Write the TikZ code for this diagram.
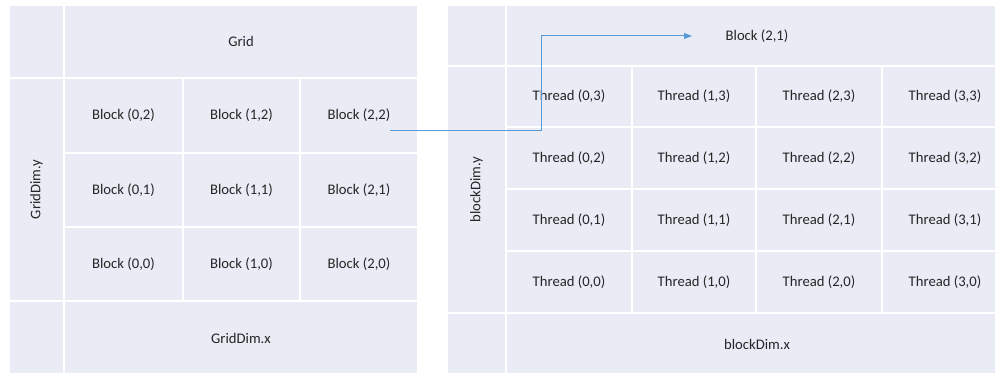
\documentclass[tikz,border=0pt]{standalone}
\usepackage{fontspec}
\setmainfont{Carlito}
\usetikzlibrary{arrows.meta}
\definecolor{cellfill}{HTML}{E9EBF5}
\definecolor{linkblue}{HTML}{5B9BD5}
\definecolor{txt}{HTML}{262626}
\begin{document}
\begin{tikzpicture}
	[	x=0.75pt,y=-0.75pt,
		cell/.style={draw=white,fill=cellfill,line width=1.5pt},
		lbl/.style={inner sep=1pt,text=txt,font=\fontsize{11}{13}\selectfont},
		link/.style={draw=linkblue,line width=0.75pt,-{Triangle[length=6pt,width=4.5pt]}}
	]
	\clip (0,0) rectangle (995,373);
	\fill[white] (0,0) rectangle (995,373);

% grid of blocks
	\draw[cell] (9,5) rectangle (64,78);
	\draw[cell] (64,5) rectangle (418,78);
	\draw[cell] (9,78) rectangle (64,301);
	\draw[cell] (9,301) rectangle (64,375);
	\draw[cell] (64,301) rectangle (418,375);
	\node[lbl] (grid) at (241,41.5) {Grid};
	\node[lbl,rotate=90] (gdimy) at (36.5,189.5) {GridDim.y};
	\node[lbl] (gdimx) at (241,338) {GridDim.x};
	\foreach \i/\xa/\xb in {0/64/183,1/183/300,2/300/418}
		\foreach \j/\ya/\yb in {2/78/153,1/153/227,0/227/301}{
			\draw[cell] (\xa,\ya) rectangle (\xb,\yb);
			\node[lbl] (b\i\j) at ({(\xa+\xb)/2},{(\ya+\yb)/2}) {Block (\i,\j)};
		}

% threads of one block
	\draw[cell] (447,5) rectangle (506,66);
	\draw[cell] (506,5) rectangle (1010,66);
	\draw[cell] (447,66) rectangle (506,313);
	\draw[cell] (447,313) rectangle (506,375);
	\draw[cell] (506,313) rectangle (1010,375);
	\node[lbl] (blk) at (757,36) {Block (2,1)};
	\node[lbl,rotate=90] (bdimy) at (476.5,189.5) {blockDim.y};
	\node[lbl] (bdimx) at (757,344) {blockDim.x};
	\foreach \i/\xa/\xb in {0/506/632,1/632/756,2/756/882,3/882/1008}
		\foreach \j/\ya/\yb in {3/66/127,2/127/189,1/189/251,0/251/313}{
			\draw[cell] (\xa,\ya) rectangle (\xb,\yb);
			\node[lbl] (t\i\j) at ({(\xa+\xb)/2},{(\ya+\yb)/2}) {Thread (\i,\j)};
		}

	\coordinate (src) at (390,131);
	\coordinate (turn) at (541,36);
	\coordinate (dst) at (692,36);
	\draw[link] (src) -| (turn) -- (dst);
\end{tikzpicture}
\end{document}
